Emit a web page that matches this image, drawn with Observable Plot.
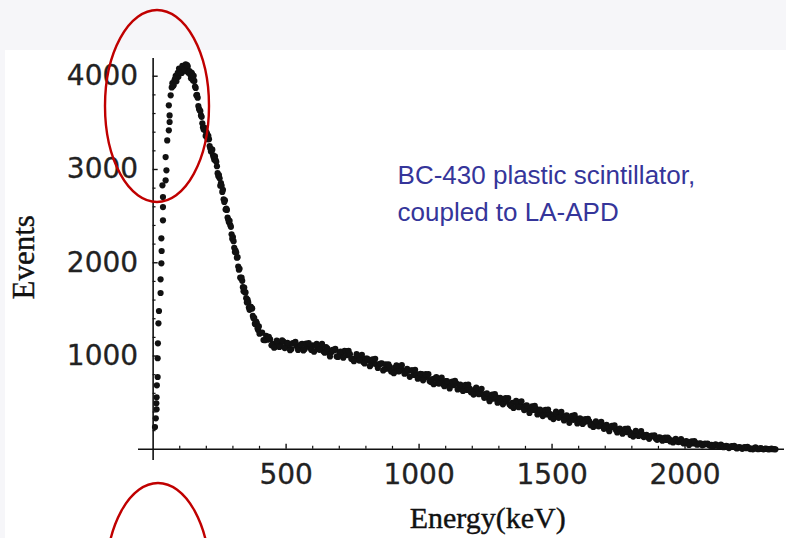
<!DOCTYPE html>
<html><head><meta charset="utf-8">
<script src="https://cdn.jsdelivr.net/npm/d3@7"></script>
<script src="https://cdn.jsdelivr.net/npm/@observablehq/plot@0.6"></script>
<style>
html,body{margin:0;padding:0;}
body{width:786px;height:538px;background:#f6f6f9;position:relative;overflow:hidden;}
#panel{position:absolute;left:5px;top:50px;right:0;bottom:0;background:#fff;}
#chart{position:absolute;left:0;top:0;}
#marks{position:absolute;left:0;top:0;pointer-events:none;}
</style></head><body>
<div id="panel"></div>
<div id="chart"></div>
<svg id="marks" width="786" height="538">
  <ellipse cx="157" cy="106" rx="52" ry="96" fill="none" stroke="#c00000" stroke-width="2.4"/>
  <ellipse cx="158" cy="579" rx="52" ry="96" fill="none" stroke="#c00000" stroke-width="2.4"/>
</svg>
<script>
// Rising edge (keV, events)
const riseEnergy = [7,10,12,13,13,14,17,17,18,20,22,28,28,31,32,31,37,37,37,35,47,50,47,53,59,62,62,59,66];
const riseCounts = [239,332,493,429,557,686,775,976,1136,1351,1483,1676,1822,1994,2126,2262,2455,2597,2705,2830,2884,2991,3133,3312,3420,3509,3580,3688,3795];

// Peak and Compton edge, 5 keV bins
const peakEnergy = [70,75,80,85,90,95,100,105,110,115,120,125,130,135,140,145,150,155,160,165,170,175,180,185,190,195,200,205,210,215,220,225,230,235,240,245,250,255,260,265,270,275,280,285,290,295,300,305,310,315,320,325,330,335,340,345,350,355,360,365,370,375,380,385,390,395,400];
const peakCounts = [3880,3895,3955,4005,3990,3995,4065,4060,4110,4060,4095,4055,4105,4055,4015,4035,3955,3950,3875,3800,3680,3635,3580,3495,3430,3425,3400,3325,3325,3225,3215,3155,3105,3100,3035,2930,2905,2855,2760,2680,2670,2580,2485,2435,2405,2305,2275,2160,2130,2055,1960,1935,1835,1806,1695,1685,1620,1605,1520,1530,1510,1430,1410,1340,1350,1280,1240];

// Peak and Compton edge, intermediate bins
const peakEnergyB = [72.5,77.5,82.5,87.5,92.5,97.5,102.5,107.5,112.5,117.5,122.5,127.5,132.5,137.5,142.5,147.5,152.5,157.5,162.5,167.5,172.5,177.5,182.5,187.5,192.5,197.5,202.5,207.5,212.5,217.5,222.5,227.5,232.5,237.5,242.5,247.5,252.5,257.5,262.5,267.5,272.5,277.5,282.5,287.5,292.5,297.5,302.5,307.5,312.5,317.5,322.5,327.5,332.5,337.5,342.5,347.5,352.5,357.5,362.5,367.5,372.5,377.5,382.5,387.5,392.5,397.5];
const peakCountsB = [3925,3905,3972,3947,4037,4082,4037,4035,4107,4072,4127,4120,4037,4052,3977,4017,4005,3890,3795,3770,3650,3627,3565,3452,3450,3360,3385,3362,3252,3192,3212,3132,3140,3082,2960,2940,2827,2827,2782,2652,2570,2567,2462,2450,2385,2257,2232,2115,2110,2060,1925,1842,1840,1738,1735,1682,1575,1577,1495,1527,1510,1405,1347,1370,1295,1317];

// Continuum, 10 keV bins
const tailEnergy = [410,420,430,440,450,460,470,480,490,500,510,520,530,540,550,560,570,580,590,600,610,620,630,640,650,660,670,680,690,700,710,720,730,740,750,760,770,780,790,800,810,820,830,840,850,860,870,880,890,900,910,920,930,940,950,960,970,980,990,1000,1010,1020,1030,1040,1050,1060,1070,1080,1090,1100,1110,1120,1130,1140,1150,1160,1170,1180,1190,1200,1210,1220,1230,1240,1250,1260,1270,1280,1290,1300,1310,1320,1330,1340,1350,1360,1370,1380,1390,1400,1410,1420,1430,1440,1450,1460,1470,1480,1490,1500,1510,1520,1530,1540,1550,1560,1570,1580,1590,1600,1610,1620,1630,1640,1650,1660,1670,1680,1690,1700,1710,1720,1730,1740,1750,1760,1770,1780,1790,1800,1810,1820,1830,1840,1850,1860,1870,1880,1890,1900,1910,1920,1930,1940,1950,1960,1970,1980,1990,2000,2010,2020,2030,2040,2050,2060,2070,2080,2090,2100,2110,2120,2130,2140,2150,2160,2170,2180,2190,2200,2210,2220,2230,2240,2250,2260,2270,2280,2290,2300,2310,2320,2330,2340];
const tailCounts = [1250,1170,1175,1180,1130,1100,1135,1110,1155,1100,
1125,1075,1135,1105,1090,1130,1075,1105,1090,1115,
1110,1085,1095,1050,1095,1035,1040,1060,995,1040,
1005,1055,1010,1020,965,975,1005,973,935,972,
955,908,957,910,910,922,860,865,885,837,
875,838,880,845,817,842,847,797,807,768,
805,765,780,730,752,760,710,731,700,730,
685,715,688,706,653,680,680,637,650,617,
643,602,625,588,592,550,575,542,560,520,
537,503,524,480,497,499,461,478,450,467,
428,445,422,433,395,411,402,374,383,357,
378,350,366,340,353,325,340,316,332,303,
320,291,299,300,268,277,256,271,246,255,
226,239,236,207,216,192,206,185,191,165,
177,154,167,147,153,131,141,139,117,125,
109,119,101,109,91,100,85,93,76,83,
68,77,63,69,55,61,49,56,45,49,
38,44,34,38,28,33,24,28,19,22,
16,18,12,14,8,10,6,7,4,4,
2,3,1,0];

// Continuum, intermediate bins
const tailEnergyB = [415,425,435,445,455,465,475,485,495,505,515,525,535,545,555,565,575,585,595,605,615,625,635,645,655,665,675,685,695,705,715,725,735,745,755,765,775,785,795,805,815,825,835,845,855,865,875,885,895,905,915,925,935,945,955,965,975,985,995,1005,1015,1025,1035,1045,1055,1065,1075,1085,1095,1105,1115,1125,1135,1145,1155,1165,1175,1185,1195,1205,1215,1225,1235,1245,1255,1265,1275,1285,1295,1305,1315,1325,1335,1345,1355,1365,1375,1385,1395,1405,1415,1425,1435,1445,1455,1465,1475,1485,1495,1505,1515,1525,1535,1545,1555,1565,1575,1585,1595,1605,1615,1625,1635,1645,1655,1665,1675,1685,1695,1705,1715,1725,1735,1745,1755,1765,1775,1785,1795,1805,1815,1825,1835,1845,1855,1865,1875,1885,1895,1905,1915,1925,1935,1945,1955,1965,1975,1985,1995,2005,2015,2025,2035,2045,2055,2065,2075,2085,2095,2105,2115,2125,2135,2145,2155,2165,2175,2185,2195,2205,2215,2225,2235,2245,2255,2265,2275,2285,2295,2305,2315,2325,2335];
const tailCountsB = [1172,1217,1205,1115,1090,1165,1097,1167,1085,1142,
1062,1140,1152,1065,1122,1060,1132,1140,1065,1047,
1130,1067,1130,1035,1082,995,1067,1077,990,1047,
982,1052,1055,970,945,1020,951,1014,921,973,
891,965,971,872,918,846,910,912,833,816,
899,836,902,811,862,777,847,852,757,809,
740,805,805,721,698,775,705,768,677,732,
652,726,734,642,694,625,691,693,611,587,
662,591,649,552,601,515,586,593,500,551,
482,548,549,466,443,520,452,514,421,472,
389,461,467,374,425,356,423,426,345,324,
403,337,401,310,365,284,359,368,277,331,
272,325,326,259,240,301,246,295,220,261,
194,251,256,181,222,167,220,221,154,136,
198,144,194,131,154,112,147,149,102,128,
93,126,126,85,74,112,78,109,63,88,
47,84,87,50,64,43,62,62,37,30,
53,32,51,23,38,13,35,36,9,25,
5,25,26,2,0,20,1,13,0,8,
0,7,3];

const xTickLabels = [500, 1000, 1500, 2000];
const yTickLabels = [1000, 2000, 3000, 4000];
const xMinorTicks = [100,200,300,400,600,700,800,900,1100,1200,1300,1400,1600,1700,1800,1900,2100,2200,2300];
const yMinorTicks = [200,400,600,800,1200,1400,1600,1800,2200,2400,2600,2800,3200,3400,3600,3800];

const xTitle = "Energy(keV)";
const yTitle = "Events";
const note = "BC-430 plastic scintillator,\ncoupled to LA-APD";

const points = [];
riseEnergy.forEach((e, i) => points.push({e, c: riseCounts[i]}));
peakEnergy.forEach((e, i) => points.push({e, c: peakCounts[i]}));
peakEnergyB.forEach((e, i) => points.push({e, c: peakCountsB[i]}));
tailEnergy.forEach((e, i) => points.push({e, c: tailCounts[i]}));
tailEnergyB.forEach((e, i) => points.push({e, c: tailCountsB[i]}));

const ink = "#111";
const tickFont = "DejaVu Sans, Verdana, sans-serif";
const serif = "Liberation Serif, Times New Roman, serif";

const chart = Plot.plot({
  width: 786, height: 538,
  marginLeft: 138, marginRight: 2, marginTop: 58, marginBottom: 78,
  x: {domain: [-55, 2374], axis: null},
  y: {domain: [-120, 4190], axis: null},
  style: {background: "transparent", overflow: "visible"},
  marks: [
    Plot.ruleY([0], {stroke: ink, strokeWidth: 1.6}),
    Plot.ruleX([0], {stroke: ink, strokeWidth: 1.6}),
    Plot.ruleX(xMinorTicks, {x: d => d, y1: 0, y2: 32, stroke: ink, strokeWidth: 1.2}),
    Plot.ruleX(xTickLabels, {x: d => d, y1: 0, y2: 55, stroke: ink, strokeWidth: 1.4}),
    Plot.ruleY(yMinorTicks, {y: d => d, x1: 0, x2: 11, stroke: ink, strokeWidth: 1.2}),
    Plot.ruleY(yTickLabels, {y: d => d, x1: 0, x2: 19, stroke: ink, strokeWidth: 1.4}),
    Plot.text(xTickLabels, {x: d => d, y: 0, dy: 15, lineAnchor: "top", text: d => String(d), fontSize: 28, fontFamily: tickFont, fill: "#222", stroke: "#222", strokeWidth: 0.3}),
    Plot.text(yTickLabels, {x: 0, y: d => d, dx: -15, textAnchor: "end", text: d => String(d), fontSize: 28, fontFamily: tickFont, fill: "#222", stroke: "#222", strokeWidth: 0.3}),
    Plot.dot(points, {x: "e", y: "c", r: 3.1, fill: ink, stroke: null}),
    Plot.text([xTitle], {x: 1258, y: 0, dy: 79, lineAnchor: "bottom", text: d => d, fontSize: 30, fontFamily: serif, fill: ink, stroke: ink, strokeWidth: 0.4}),
    Plot.text([yTitle], {x: 0, y: 2058, dx: -119.5, rotate: -90, lineAnchor: "bottom", text: d => d, fontSize: 31, fontFamily: serif, fill: ink, stroke: ink, strokeWidth: 0.4}),
    Plot.text([note], {x: 919, y: 2444, textAnchor: "start", lineAnchor: "bottom", lineHeight: 1.42, text: d => d, fontSize: 26, fontFamily: "Liberation Sans, Arial, sans-serif", fill: "#35359a"})
  ]
});
document.getElementById("chart").appendChild(chart);
</script>
</body></html>
